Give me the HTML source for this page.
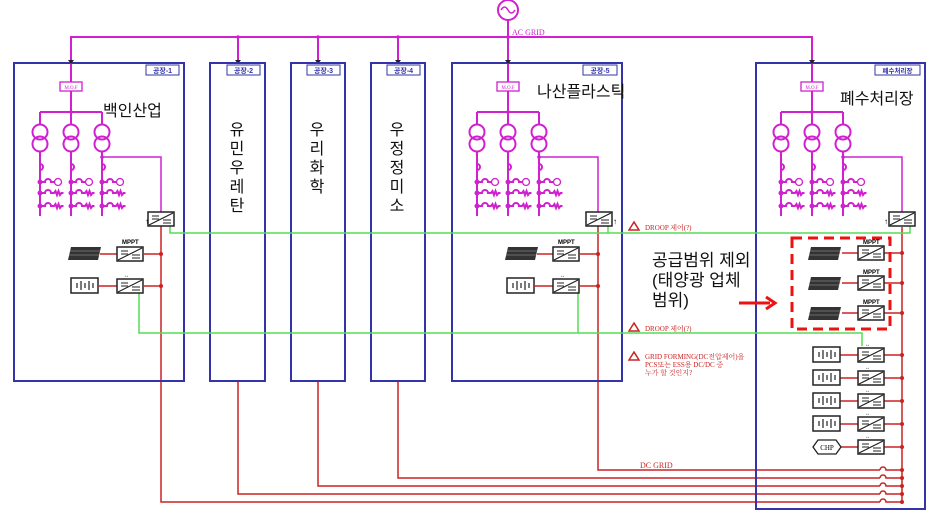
<!DOCTYPE html>
<html><head><meta charset="utf-8"><style>
html,body{margin:0;padding:0;background:#fff;}
svg{display:block;}
.k{font-family:"Liberation Sans","Noto Sans CJK KR",sans-serif;}
</style></head><body>
<svg width="933" height="514" viewBox="0 0 933 514" xmlns="http://www.w3.org/2000/svg">
<defs>
<g id="col" stroke="#d020d0" stroke-width="2" fill="none">
  <line x1="0" y1="112" x2="0" y2="125"/>
  <circle cx="0" cy="132" r="7.5"/>
  <circle cx="0" cy="144" r="7.5"/>
  <line x1="0" y1="151" x2="0" y2="216"/>
  <path d="M0 164 a3 3 0 0 1 0 6" />
  <path d="M0 182 h5 a3 3 0 0 1 6 0 h3"/><circle cx="18" cy="182" r="3.5" stroke-width="1.3"/>
  <path d="M0 193 h5 a3 3 0 0 1 6 0 h3 l1.5 -2 l1.5 4 l1.5 -4 l1.5 4 l1.5 -2 h2"/>
  <path d="M0 206 h5 a3 3 0 0 1 6 0 h3 l1.5 -2 l1.5 4 l1.5 -4 l1.5 4 l1.5 -2 h2"/>
  <circle cx="0" cy="182" r="1.5" fill="#d020d0"/><circle cx="0" cy="193" r="1.5" fill="#d020d0"/><circle cx="0" cy="206" r="1.5" fill="#d020d0"/>
</g>
<g id="inv">
  <rect x="0" y="0" width="26" height="14" fill="#fff" stroke="#222" stroke-width="1.5"/>
  <line x1="1" y1="13" x2="25" y2="1" stroke="#222" stroke-width="1.2"/>
  <line x1="4" y1="4" x2="11" y2="4" stroke="#222"/><line x1="4" y1="7" x2="11" y2="7" stroke="#222"/>
  <line x1="15" y1="8" x2="23" y2="8" stroke="#222"/><line x1="15" y1="11" x2="23" y2="11" stroke="#222"/>
</g>
<g id="pv"><path d="M3 0 h30 l-3 13 h-30 z" fill="#333"/><path d="M2 4 h30 M1 8 h30" stroke="#aaa" stroke-width="0.6"/></g>
<g id="bat"><rect x="0" y="0" width="27" height="15" fill="#fff" stroke="#222" stroke-width="1.5"/>
 <path d="M6 5v5 M10 3v9 M14 5v5 M18 3v9 M22 5v5" stroke="#222" stroke-width="1.2"/></g>
<g id="plant">
  <line x1="0" y1="37" x2="0" y2="112" stroke="#d020d0" stroke-width="2"/>
  <path d="M-3 60 h6 l-3 4 z" fill="#222"/>
  <rect x="-11" y="82" width="22" height="9" fill="#fff" stroke="#d020d0" stroke-width="1.3"/>
  <text x="0" y="89" font-size="5" text-anchor="middle" fill="#d020d0" font-family="Liberation Serif">M.O.F</text>
  <line x1="-31" y1="112" x2="31" y2="112" stroke="#d020d0" stroke-width="2"/>
  <circle cx="0" cy="112" r="1.8" fill="#d020d0"/>
  <line x1="-31" y1="112" x2="-31" y2="125" stroke="#d020d0" stroke-width="2"/>
  <use href="#col" x="-31"/><use href="#col" x="0"/><use href="#col" x="31"/>
  <polyline points="31,157 90,157 90,212" fill="none" stroke="#d020d0" stroke-width="1.5"/>
  <circle cx="31" cy="157" r="1.8" fill="#d020d0"/>
</g>
</defs>

<!-- AC grid -->
<circle cx="508" cy="10" r="10" fill="none" stroke="#d020d0" stroke-width="2"/>
<path d="M501 10 q3.5 -6 7 0 q3.5 6 7 0" fill="none" stroke="#d020d0" stroke-width="1.5"/>
<line x1="508" y1="20" x2="508" y2="37" stroke="#d020d0" stroke-width="2"/>
<polyline points="71,63 71,37 812,37 812,63" fill="none" stroke="#d020d0" stroke-width="2"/>
<text x="512" y="35" font-size="8" fill="#d020d0" font-family="Liberation Serif">AC GRID</text>
<g stroke="#d020d0" stroke-width="2">
<line x1="238" y1="37" x2="238" y2="63"/><line x1="318" y1="37" x2="318" y2="63"/><line x1="398" y1="37" x2="398" y2="63"/>
</g>
<g fill="#d020d0"><circle cx="238" cy="37" r="1.8"/><circle cx="318" cy="37" r="1.8"/><circle cx="398" cy="37" r="1.8"/><circle cx="508" cy="37" r="1.8"/></g>
<g fill="#222"><path d="M235 60h6l-3 4z"/><path d="M315 60h6l-3 4z"/><path d="M395 60h6l-3 4z"/></g>

<!-- DC red lines -->
<g fill="none" stroke="#cc2222" stroke-width="1.5">
<polyline points="161,226 161,502 880,502"/>
<polyline points="238,381 238,494 880,494"/>
<polyline points="318,381 318,486 880,486"/>
<polyline points="398,381 398,478 880,478"/>
<polyline points="598,226 598,470 880,470"/>
<path d="M880 470 a3 3 0 0 1 6 0 h16 M880 478 a3 3 0 0 1 6 0 h16 M880 486 a3 3 0 0 1 6 0 h16 M880 494 a3 3 0 0 1 6 0 h16 M880 502 a3 3 0 0 1 6 0 h16"/>
<line x1="902" y1="227" x2="902" y2="502"/>
</g>
<text x="640" y="468" font-size="8" fill="#cc2222" font-family="Liberation Serif">DC GRID</text>

<!-- boxes -->
<g fill="none" stroke="#3333aa" stroke-width="2">
<rect x="14" y="63" width="170" height="318"/>
<rect x="210" y="63" width="55" height="318"/>
<rect x="291" y="63" width="54" height="318"/>
<rect x="371" y="63" width="54" height="318"/>
<rect x="452" y="63" width="170" height="318"/>
<rect x="756" y="63" width="169" height="446"/>
</g>
<g font-size="7" fill="#3333aa" font-family="Liberation Sans,Noto Sans CJK KR,sans-serif" font-weight="bold">
<rect x="146" y="65" width="33" height="10" fill="#fff" stroke="#3333aa"/><text x="162.5" y="73" text-anchor="middle">공장-1</text>
<rect x="227" y="65" width="33" height="10" fill="#fff" stroke="#3333aa"/><text x="243.5" y="73" text-anchor="middle">공장-2</text>
<rect x="307" y="65" width="33" height="10" fill="#fff" stroke="#3333aa"/><text x="323.5" y="73" text-anchor="middle">공장-3</text>
<rect x="387" y="65" width="33" height="10" fill="#fff" stroke="#3333aa"/><text x="403.5" y="73" text-anchor="middle">공장-4</text>
<rect x="583" y="65" width="34" height="10" fill="#fff" stroke="#3333aa"/><text x="600" y="73" text-anchor="middle">공장-5</text>
<rect x="875" y="65" width="45" height="10" fill="#fff" stroke="#3333aa"/><text x="897.5" y="73" text-anchor="middle" font-size="6.5">폐수처리장</text>
</g>

<use href="#plant" x="71"/>
<use href="#plant" x="508"/>
<use href="#plant" x="812"/>

<!-- green lines -->
<g fill="none" stroke="#55dd55" stroke-width="1.5">
<polyline points="170,226 170,233 910,233 910,226"/>
<polyline points="608,226 608,233"/>
<polyline points="139,293 139,333 862,333 862,346"/>
<polyline points="578,293 578,333"/>
</g>

<!-- plant1 DER -->
<use href="#inv" x="148" y="212"/><text x="145" y="224" font-size="8">↑</text>
<use href="#pv" x="68" y="247"/><line x1="100" y1="254" x2="117" y2="254" stroke="#cc2222" stroke-width="1.5"/>
<use href="#inv" x="117" y="247"/><text x="122" y="244" font-size="6" font-weight="bold" font-family="Liberation Sans">MPPT</text>
<line x1="143" y1="254" x2="161" y2="254" stroke="#cc2222" stroke-width="1.5"/><circle cx="161" cy="254" r="2" fill="#cc2222"/>
<use href="#bat" x="71" y="278"/><line x1="98" y1="286" x2="117" y2="286" stroke="#cc2222" stroke-width="1.5"/>
<use href="#inv" x="117" y="279"/><text x="124" y="277" font-size="5">↔</text>
<line x1="143" y1="286" x2="161" y2="286" stroke="#cc2222" stroke-width="1.5"/><circle cx="161" cy="286" r="2" fill="#cc2222"/>

<!-- plant5 DER -->
<use href="#inv" x="586" y="212"/><text x="613" y="224" font-size="8">↑</text>
<use href="#pv" x="505" y="247"/><line x1="537" y1="254" x2="553" y2="254" stroke="#cc2222" stroke-width="1.5"/>
<use href="#inv" x="553" y="247"/><text x="558" y="244" font-size="6" font-weight="bold" font-family="Liberation Sans">MPPT</text>
<line x1="579" y1="254" x2="598" y2="254" stroke="#cc2222" stroke-width="1.5"/><circle cx="598" cy="254" r="2" fill="#cc2222"/>
<use href="#bat" x="507" y="278"/><line x1="534" y1="286" x2="553" y2="286" stroke="#cc2222" stroke-width="1.5"/>
<use href="#inv" x="553" y="279"/><text x="560" y="277" font-size="5">↔</text>
<line x1="579" y1="286" x2="598" y2="286" stroke="#cc2222" stroke-width="1.5"/><circle cx="598" cy="286" r="2" fill="#cc2222"/>

<!-- plant6 DER -->
<use href="#inv" x="889" y="212"/><text x="884" y="224" font-size="8">↑</text>
<g stroke="#cc2222" stroke-width="1.5">
<line x1="842" y1="253" x2="858" y2="253"/><line x1="884" y1="253" x2="902" y2="253"/>
<line x1="842" y1="283" x2="858" y2="283"/><line x1="884" y1="283" x2="902" y2="283"/>
<line x1="842" y1="313" x2="858" y2="313"/><line x1="884" y1="313" x2="902" y2="313"/>
<line x1="840" y1="355" x2="858" y2="355"/><line x1="884" y1="355" x2="902" y2="355"/>
<line x1="840" y1="378" x2="858" y2="378"/><line x1="884" y1="378" x2="902" y2="378"/>
<line x1="840" y1="401" x2="858" y2="401"/><line x1="884" y1="401" x2="902" y2="401"/>
<line x1="840" y1="424" x2="858" y2="424"/><line x1="884" y1="424" x2="902" y2="424"/>
<line x1="840" y1="447" x2="858" y2="447"/><line x1="884" y1="447" x2="902" y2="447"/>
</g>
<g fill="#cc2222"><circle cx="902" cy="253" r="2"/><circle cx="902" cy="283" r="2"/><circle cx="902" cy="313" r="2"/><circle cx="902" cy="355" r="2"/><circle cx="902" cy="378" r="2"/><circle cx="902" cy="401" r="2"/><circle cx="902" cy="424" r="2"/><circle cx="902" cy="447" r="2"/><circle cx="902" cy="470" r="2"/><circle cx="902" cy="478" r="2"/><circle cx="902" cy="486" r="2"/><circle cx="902" cy="494" r="2"/><circle cx="902" cy="502" r="2"/></g>
<use href="#pv" x="808" y="247"/><use href="#pv" x="808" y="277"/><use href="#pv" x="808" y="307"/>
<use href="#inv" x="858" y="246"/><use href="#inv" x="858" y="276"/><use href="#inv" x="858" y="306"/>
<g font-size="6" font-weight="bold" font-family="Liberation Sans"><text x="863" y="244">MPPT</text><text x="863" y="274">MPPT</text><text x="863" y="304">MPPT</text></g>
<use href="#bat" x="813" y="347"/><use href="#bat" x="813" y="370"/><use href="#bat" x="813" y="393"/><use href="#bat" x="813" y="416"/>
<path d="M818 440 h18 l5 7 l-5 7 h-18 l-5 -7 z" fill="#fff" stroke="#222" stroke-width="1.3"/>
<text x="827" y="450" font-size="7" text-anchor="middle" font-family="Liberation Serif">CHP</text>
<use href="#inv" x="858" y="348"/><use href="#inv" x="858" y="371"/><use href="#inv" x="858" y="394"/><use href="#inv" x="858" y="417"/><use href="#inv" x="858" y="440"/>
<g font-size="5"><text x="865" y="346">↔</text><text x="865" y="369">↔</text><text x="865" y="392">↔</text><text x="865" y="415">↔</text><text x="865" y="438">↔</text></g>
<rect x="792" y="238" width="98" height="91" fill="none" stroke="#ee1111" stroke-width="3" stroke-dasharray="10,6"/>

<!-- warnings -->
<g fill="#cc2222" font-family="Liberation Serif,Noto Serif CJK SC,serif" font-size="7">
<path d="M629 230 l5 -8 l5 8 z" fill="none" stroke="#cc2222" stroke-width="1.5"/><text x="645" y="230">DROOP 제어(?)</text>
<path d="M629 331 l5 -8 l5 8 z" fill="none" stroke="#cc2222" stroke-width="1.5"/><text x="645" y="331">DROOP 제어(?)</text>
<path d="M629 360 l5 -8 l5 8 z" fill="none" stroke="#cc2222" stroke-width="1.5"/>
<text x="645" y="359">GRID FORMING(DC전압제어)을</text><text x="645" y="367">PCS또는 ESS용 DC/DC 중</text><text x="645" y="375">누가 할 것인지?</text>
</g>

<!-- Korean labels -->
<g class="k" font-size="16" fill="#111">
<text x="103" y="116">백인산업</text>
<text x="537" y="97">나산플라스틱</text>
<text x="840" y="104">폐수처리장</text>
</g>
<g class="k" font-size="16" fill="#111" text-anchor="middle">
<text x="237" y="135">유</text><text x="237" y="154">민</text><text x="237" y="173">우</text><text x="237" y="192">레</text><text x="237" y="211">탄</text>
<text x="317" y="135">우</text><text x="317" y="154">리</text><text x="317" y="173">화</text><text x="317" y="192">학</text>
<text x="397" y="135">우</text><text x="397" y="154">정</text><text x="397" y="173">정</text><text x="397" y="192">미</text><text x="397" y="211">소</text>
</g>
<g class="k" font-size="17" fill="#111">
<text x="652" y="266">공급범위 제외</text>
<text x="652" y="286">(태양광 업체</text>
<text x="652" y="306">범위)</text>
</g>
<line x1="739" y1="303" x2="770" y2="303" stroke="#ee1111" stroke-width="3"/>
<path d="M766 297 l9 6 l-9 6" fill="none" stroke="#ee1111" stroke-width="3"/>
</svg>
</body></html>
